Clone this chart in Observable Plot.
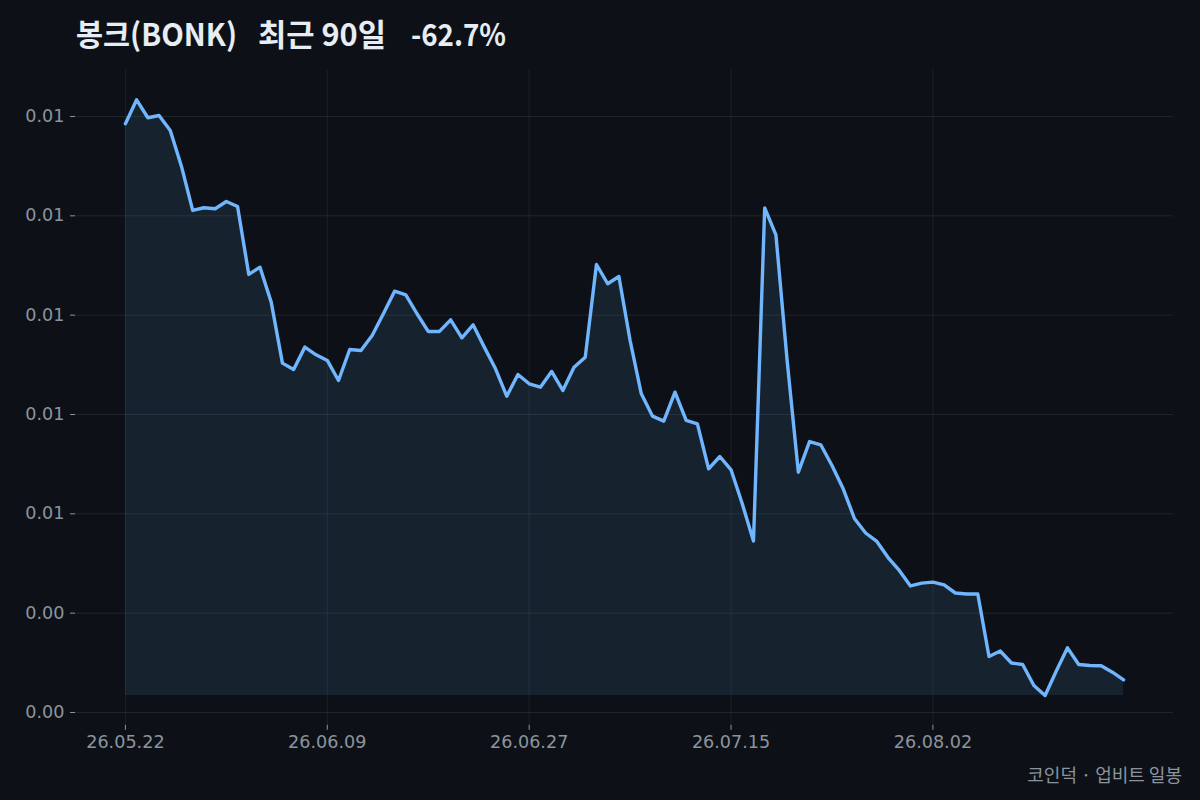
<!DOCTYPE html>
<html>
<head>
<meta charset="utf-8">
<script src="https://cdn.jsdelivr.net/npm/d3@7"></script>
<script src="https://cdn.jsdelivr.net/npm/@observablehq/plot@0.6"></script>
<style>
  html, body { margin: 0; padding: 0; background: #0d1117; }
  #wrap { position: relative; width: 1200px; height: 800px; background: #0d1117; overflow: hidden; }
  #title { position: relative; height: 60px; }
  #title .t { position: absolute; top: 10px; font-family: "Noto Sans CJK KR", "Noto Sans", sans-serif; font-weight: 700; font-size: 31px; line-height: normal; color: #e6edf3; white-space: pre; transform-origin: 0 0; }
  #caption { position: absolute; right: 18px; top: 761px; font-family: "Noto Sans CJK KR", "Noto Sans", sans-serif; font-size: 18px; line-height: normal; color: #8b949e; white-space: pre; }
  svg { display: block; }
</style>
</head>
<body>
<div id="wrap">
  <div id="title">
    <span class="t" data-w="161" style="left:76px">봉크(BONK)</span>
    <span class="t" data-w="128" style="left:258px">최근 90일</span>
    <span class="t" data-w="95" style="left:411px">-62.7%</span>
  </div>
  <div id="chart"></div>
  <div id="caption">코인덕 · 업비트 일봉</div>
</div>
<script>
// fit each part of the title to the reference widths
document.querySelectorAll("#title .t[data-w]").forEach(el => {
  const w = el.getBoundingClientRect().width;
  const target = +el.dataset.w;
  if (w > 0) el.style.transform = `scaleX(${target / w})`;
});

const dates = [
  "2026-05-22","2026-05-23","2026-05-24","2026-05-25","2026-05-26","2026-05-27","2026-05-28","2026-05-29","2026-05-30","2026-05-31",
  "2026-06-01","2026-06-02","2026-06-03","2026-06-04","2026-06-05","2026-06-06","2026-06-07","2026-06-08","2026-06-09","2026-06-10",
  "2026-06-11","2026-06-12","2026-06-13","2026-06-14","2026-06-15","2026-06-16","2026-06-17","2026-06-18","2026-06-19","2026-06-20",
  "2026-06-21","2026-06-22","2026-06-23","2026-06-24","2026-06-25","2026-06-26","2026-06-27","2026-06-28","2026-06-29","2026-06-30",
  "2026-07-01","2026-07-02","2026-07-03","2026-07-04","2026-07-05","2026-07-06","2026-07-07","2026-07-08","2026-07-09","2026-07-10",
  "2026-07-11","2026-07-12","2026-07-13","2026-07-14","2026-07-15","2026-07-16","2026-07-17","2026-07-18","2026-07-19","2026-07-20",
  "2026-07-21","2026-07-22","2026-07-23","2026-07-24","2026-07-25","2026-07-26","2026-07-27","2026-07-28","2026-07-29","2026-07-30",
  "2026-07-31","2026-08-01","2026-08-02","2026-08-03","2026-08-04","2026-08-05","2026-08-06","2026-08-07","2026-08-08","2026-08-09",
  "2026-08-10","2026-08-11","2026-08-12","2026-08-13","2026-08-14","2026-08-15","2026-08-16","2026-08-17","2026-08-18","2026-08-19"
];
const prices = [
  0.008927, 0.009168, 0.008987, 0.009010, 0.008859, 0.008497, 0.008054, 0.008081, 0.008071, 0.008144,
  0.008094, 0.007410, 0.007483, 0.007131, 0.006517, 0.006453, 0.006678, 0.006601, 0.006544, 0.006342,
  0.006654, 0.006644, 0.006795, 0.007014, 0.007241, 0.007205, 0.007014, 0.006836, 0.006836, 0.006953,
  0.006772, 0.006903, 0.006678, 0.006460, 0.006184, 0.006403, 0.006309, 0.006275, 0.006433, 0.006242,
  0.006476, 0.006577, 0.007510, 0.007316, 0.007389, 0.006745, 0.006208, 0.005983, 0.005933, 0.006225,
  0.005940, 0.005906, 0.005453, 0.005577, 0.005443, 0.005101, 0.004727, 0.008079, 0.007809, 0.006544,
  0.005419, 0.005728, 0.005695, 0.005487, 0.005252, 0.004953, 0.004807, 0.004722, 0.004560, 0.004430,
  0.004274, 0.004302, 0.004312, 0.004284, 0.004203, 0.004193, 0.004193, 0.003564, 0.003619, 0.003498,
  0.003483, 0.003272, 0.003171, 0.003418, 0.003651, 0.003483, 0.003473, 0.003470, 0.003406, 0.003329
];
const xTicks = ["2026-05-22","2026-06-09","2026-06-27","2026-07-15","2026-08-02"];
const yTicks = [0.003, 0.004, 0.005, 0.006, 0.007, 0.008, 0.009];

const lineColor = "#70b6ff";
const data = dates.map((d, i) => ({date: new Date(d + "T00:00:00Z"), price: prices[i]}));
const t0 = data[0].date, t1 = data[data.length - 1].date;
const tPad = (t1 - t0) * 0.05;
const vMin = d3.min(prices), vMax = d3.max(prices);
const vPad = (vMax - vMin) * 0.05;
const fmtDate = d3.utcFormat("%y.%m.%d");
const xTickDates = xTicks.map(d => new Date(d + "T00:00:00Z"));

const chart = Plot.plot({
  width: 1200,
  height: 700,
  marginLeft: 75,
  marginRight: 27,
  marginTop: 9.5,
  marginBottom: 35.2,
  style: {background: "transparent", color: "#8b949e", fontFamily: "DejaVu Sans, sans-serif", fontSize: "17.6px"},
  x: {type: "utc", domain: [new Date(+t0 - tPad), new Date(+t1 + tPad)], label: null},
  y: {domain: [vMin - vPad, vMax + vPad], label: null},
  marks: [
    Plot.gridY(yTicks, {stroke: "#8b949e", strokeOpacity: 0.15, strokeWidth: 1}),
    Plot.gridX(xTickDates, {stroke: "#8b949e", strokeOpacity: 0.12, strokeWidth: 1}),
    Plot.areaY(data, {x: "date", y1: vMin, y2: "price", fill: lineColor, fillOpacity: 0.1}),
    Plot.lineY(data, {x: "date", y: "price", stroke: lineColor, strokeWidth: 3.4, strokeLinejoin: "round"}),
    Plot.axisX(xTickDates, {tickFormat: fmtDate, tickSize: 5, tickPadding: 5, stroke: "#8b949e", label: null}),
    Plot.axisY(yTicks, {tickFormat: d3.format(".2f"), tickSize: 5, tickPadding: 6, stroke: "#8b949e", label: null})
  ]
});
document.getElementById("chart").appendChild(chart);
</script>
</body>
</html>
